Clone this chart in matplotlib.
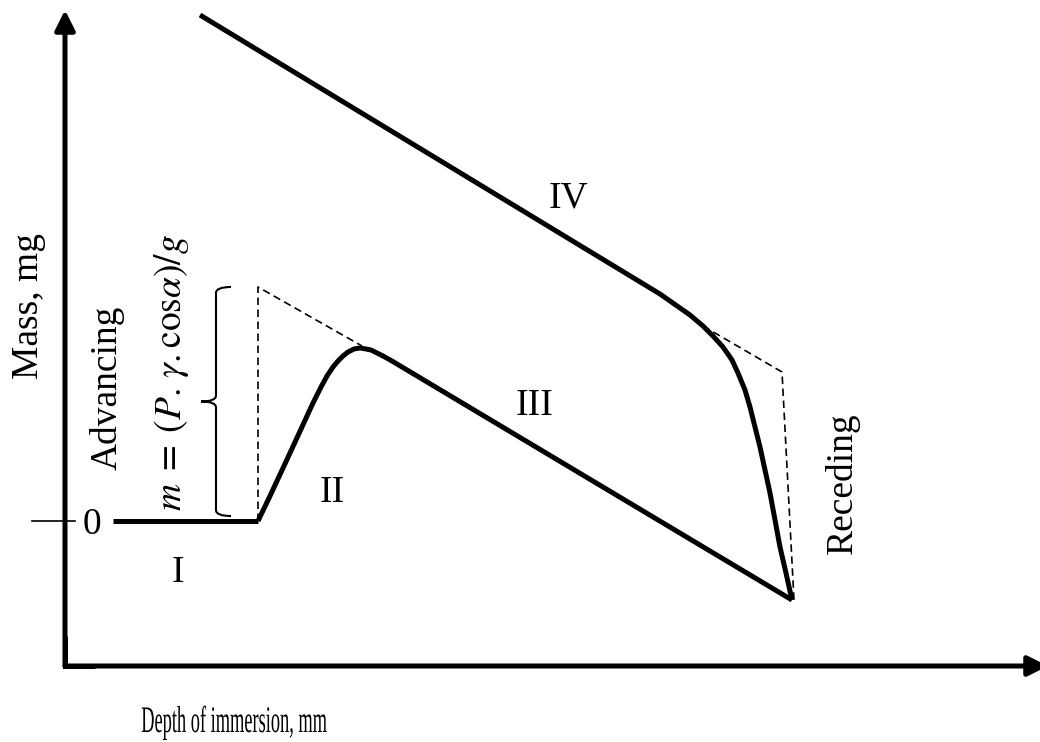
import matplotlib
matplotlib.use('Agg')
import matplotlib.pyplot as plt
from matplotlib.path import Path
from matplotlib.patches import PathPatch
from matplotlib.patheffects import AbstractPathEffect
from matplotlib.transforms import Affine2D

plt.rcParams['font.family'] = ['Liberation Serif', 'DejaVu Serif']
plt.rcParams['mathtext.fontset'] = 'stix'

# stage I: flat, before the plate touches the liquid
stage1_depth = [48, 193]
stage1_mass = [0, 0]

# stage II + III: meniscus forms, then buoyancy takes over (advancing)
advance_depth = [193, 205, 225, 248, 256, 262, 268, 273, 278, 283, 289, 295, 301, 306,
                 312, 318, 327, 727]
advance_mass = [0, 25, 68, 118, 134, 145, 154, 160, 165, 169, 172, 173, 172, 171,
                168, 165, 160, -79]

# stage IV: receding branch
recede_depth = [135, 595, 605, 615, 625, 638, 648, 658, 667, 673, 680, 685, 690, 695,
                700, 705, 710, 715, 721, 727]
recede_mass = [506, 227, 220, 213, 206, 195, 185, 174, 161, 148, 131, 114, 94, 74,
               51, 28, 1, -26, -52, -79]

# dashed construction lines
adv_guide_depth = [193, 193, 297]
adv_guide_mass = [0, 234, 175]
rec_guide_depth = [638, 717, 729]
rec_guide_mass = [195, 149, -79]

# bracket showing the advancing force
brace_x, brace_top, brace_bot = 151, 234, 5

roman_labels = ['I', 'II', 'III', 'IV']
roman_depth = [113, 267, 470, 503]
roman_mass = [-61, 19, 106, 314]

axis_floor = -145
lw = 3.6


class Squeeze(AbstractPathEffect):
    # narrow the glyphs horizontally around their centre
    def __init__(self, sx):
        super().__init__()
        self.sx = sx

    def draw_path(self, renderer, gc, tpath, affine, rgbFace=None):
        box = tpath.get_extents(affine)
        cx = (box.x0 + box.x1) / 2
        affine = affine + Affine2D().translate(-cx, 0).scale(self.sx, 1).translate(cx, 0)
        renderer.draw_path(gc, tpath, affine, rgbFace)


def brace_path(x, top, bot, hook=15, tip=15, r=6):
    mid = (top + bot) / 2
    verts = [(x + hook, top), (x, top), (x, top - r),
             (x, mid + r), (x, mid), (x - tip, mid),
             (x, mid), (x, mid - r),
             (x, bot + r), (x, bot), (x + hook, bot)]
    codes = [Path.MOVETO, Path.CURVE3, Path.CURVE3,
             Path.LINETO, Path.CURVE3, Path.CURVE3,
             Path.CURVE3, Path.CURVE3,
             Path.LINETO, Path.CURVE3, Path.CURVE3]
    return Path(verts, codes)


fig = plt.figure(figsize=(10.4, 7.42), dpi=100)
ax = fig.add_axes([0, 0, 1, 1])
ax.set_xlim(-65, 975)
ax.set_ylim(-221, 521)
ax.axis('off')

# axes with arrows
arrow = dict(arrowstyle='-|>,head_length=1.0,head_width=0.5', color='black',
             lw=lw, mutation_scale=12, shrinkA=0, shrinkB=0)
ax.annotate('', xy=(0, 511), xytext=(0, axis_floor), arrowprops=arrow,
            annotation_clip=False)
ax.annotate('', xy=(983, axis_floor), xytext=(0, axis_floor), arrowprops=arrow,
            annotation_clip=False)
ax.plot([0, 0, 30], [axis_floor + 30, axis_floor, axis_floor], color='black', lw=lw,
        solid_joinstyle='miter', solid_capstyle='butt')

# zero tick
ax.plot([-33, 10], [0, 0], color='black', lw=1.2)
ax.text(27, -13, '0', fontsize=27, ha='center', va='baseline')

# curves
ax.plot(stage1_depth, stage1_mass, color='black', lw=lw, solid_capstyle='butt')
ax.plot(advance_depth, advance_mass, color='black', lw=lw, solid_capstyle='butt')
ax.plot(recede_depth, recede_mass, color='black', lw=lw, solid_capstyle='butt')

dash = (0, (4.5, 2.7))
ax.plot(adv_guide_depth, adv_guide_mass, color='black', lw=1.2, linestyle=dash)
ax.plot(rec_guide_depth, rec_guide_mass, color='black', lw=1.2, linestyle=dash)

ax.add_patch(PathPatch(brace_path(brace_x, brace_top, brace_bot), fill=False,
                       lw=1.5, edgecolor='black'))

for label, d, m in zip(roman_labels, roman_depth, roman_mass):
    ax.text(d, m, label, fontsize=27, ha='center', va='baseline')

ax.text(-27, 215, 'Mass, mg', fontsize=27, rotation=90, rotation_mode='anchor',
        ha='center', va='baseline')
ax.text(52, 133, 'Advancing', fontsize=27, rotation=90, rotation_mode='anchor',
        ha='center', va='baseline')
ax.text(116, 148, r'$m\;=\;(P.\,\gamma.\mathrm{cos}\alpha)/g$', fontsize=27, rotation=90,
        rotation_mode='anchor', ha='center', va='baseline')
ax.text(787, 38, 'Receding', fontsize=27, rotation=90, rotation_mode='anchor',
        ha='center', va='baseline')
ax.text(169, -211, 'Depth of immersion, mm', fontsize=27, ha='center', va='baseline',
        path_effects=[Squeeze(0.49)])

fig.savefig('out.png', dpi=100)
